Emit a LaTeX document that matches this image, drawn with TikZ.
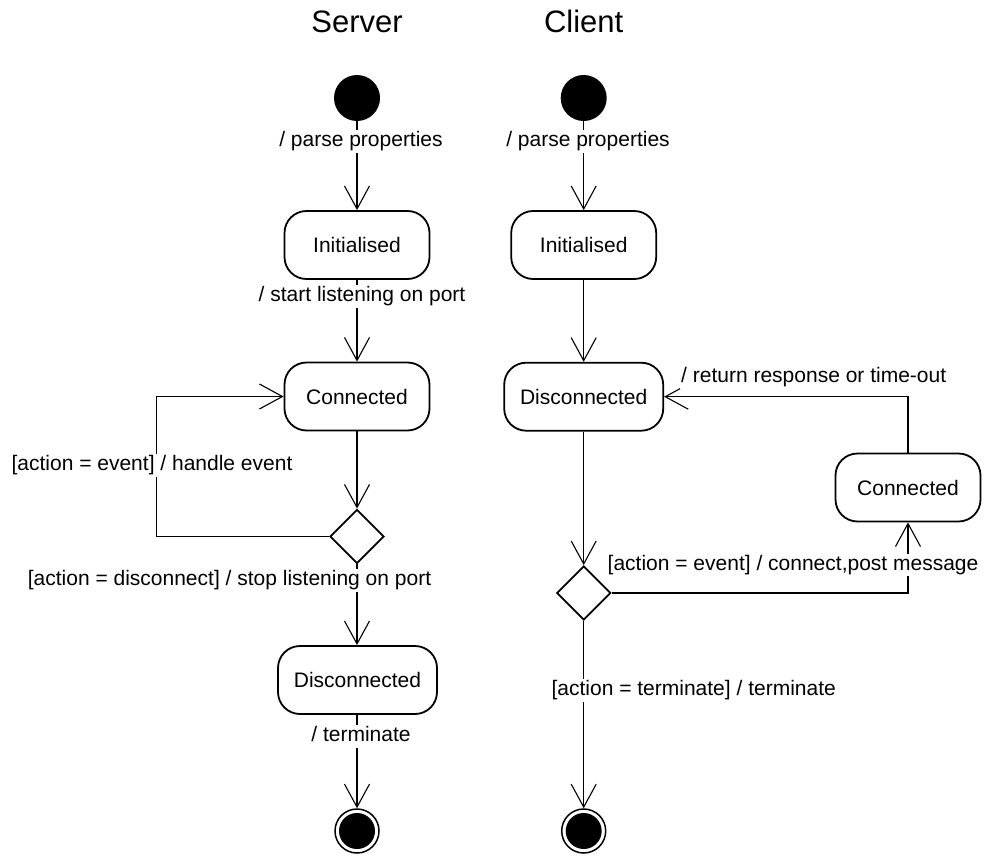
\documentclass[tikz,border=0pt]{standalone}
\usepackage{fontspec}
\setmainfont{Liberation Sans}
\usetikzlibrary{arrows.meta,shapes.geometric}
\begin{document}
\begin{tikzpicture}[x=1pt,y=-1pt,
  lbl/.style={font=\fontsize{21}{25}\selectfont, text height=15pt, text depth=4.5pt, inner sep=1.5pt, fill=white},
  ttl/.style={font=\fontsize{31}{36}\selectfont, inner sep=0pt, anchor=base},
  state/.style={draw, line width=1.8pt, rounded corners=22pt, minimum height=68pt, minimum width=145pt, inner sep=0pt, font=\fontsize{21}{25}\selectfont},
  widestate/.style={state, minimum width=159pt},
  startst/.style={circle, fill=black, minimum size=46pt, inner sep=0pt},
  endst/.style={circle, draw, line width=1.5pt, minimum size=44pt, inner sep=0pt, path picture={\fill[black] (path picture bounding box.center) circle (18pt);}},
  choice/.style={diamond, draw, line width=1.8pt, minimum width=54pt, minimum height=54pt, inner sep=0pt},
  conn/.style={line width=1.1pt, -{Straight Barb[length=23pt,width=25pt,line width=1.1pt]}}
]
\fill[white] (0,0) rectangle (985,856);
\useasboundingbox (0,0) rectangle (985,856);

% titles
\node[ttl] (ts) at (357,33) {Server};
\node[ttl] (tc) at (583.7,33) {Client};

% server nodes
\node[startst] (ss) at (357,98) {};
\node[state] (si) at (357,245) {Initialised};
\node[state] (sc) at (357,396.5) {Connected};
\node[choice] (sd) at (357,536.5) {};
\node[widestate] (sx) at (357.5,680) {Disconnected};
\node[endst] (sf) at (357,831) {};
\coordinate (sloop) at (156.7,536.5);

% client nodes
\node[startst] (cs) at (583.7,98) {};
\node[state] (ci) at (583.7,245) {Initialised};
\node[widestate] (cx) at (583.7,396.7) {Disconnected};
\node[state] (cc) at (908,487.5) {Connected};
\node[choice] (cd) at (583.7,593) {};
\node[endst] (cf) at (583.7,831) {};

% server connectors
\draw[conn] (ss) -- (si);
\draw[conn] (si) -- (sc);
\draw[conn] (sc) -- (sd);
\draw[conn] (sd.west) -- (sloop) |- (sc.west);
\draw[conn] (sd) -- (sx.north -| sd);
\draw[conn] (sx.south -| sf) -- (sf);

% client connectors
\draw[conn] (cs) -- (ci);
\draw[conn] (ci) -- (cx);
\draw[conn] (cx) -- (cd);
\draw[conn] (cd.east) -| (cc.south);
\draw[conn] (cc.north) |- (cx.east);
\draw[conn] (cd) -- (cf);

% labels
\node[lbl] (l1) at (361,141.7) {/ parse properties};
\node[lbl] (l2) at (362,296.7) {/ start listening on port};
\node[lbl] (l3) at (152,465.7) {[action = event] / handle event};
\node[lbl] (l4) at (229.5,580.7) {[action = disconnect] / stop listening on port};
\node[lbl] (l5) at (361,736.7) {/ terminate};
\node[lbl] (l6) at (588,141.7) {/ parse properties};
\node[lbl] (l7) at (813.7,377.7) {/ return response or time-out};
\node[lbl, anchor=west] (l8) at (606,565) {[action = event] / connect,post message};
\node[lbl] (l9) at (693.7,690.7) {[action = terminate] / terminate};
\end{tikzpicture}
\end{document}
